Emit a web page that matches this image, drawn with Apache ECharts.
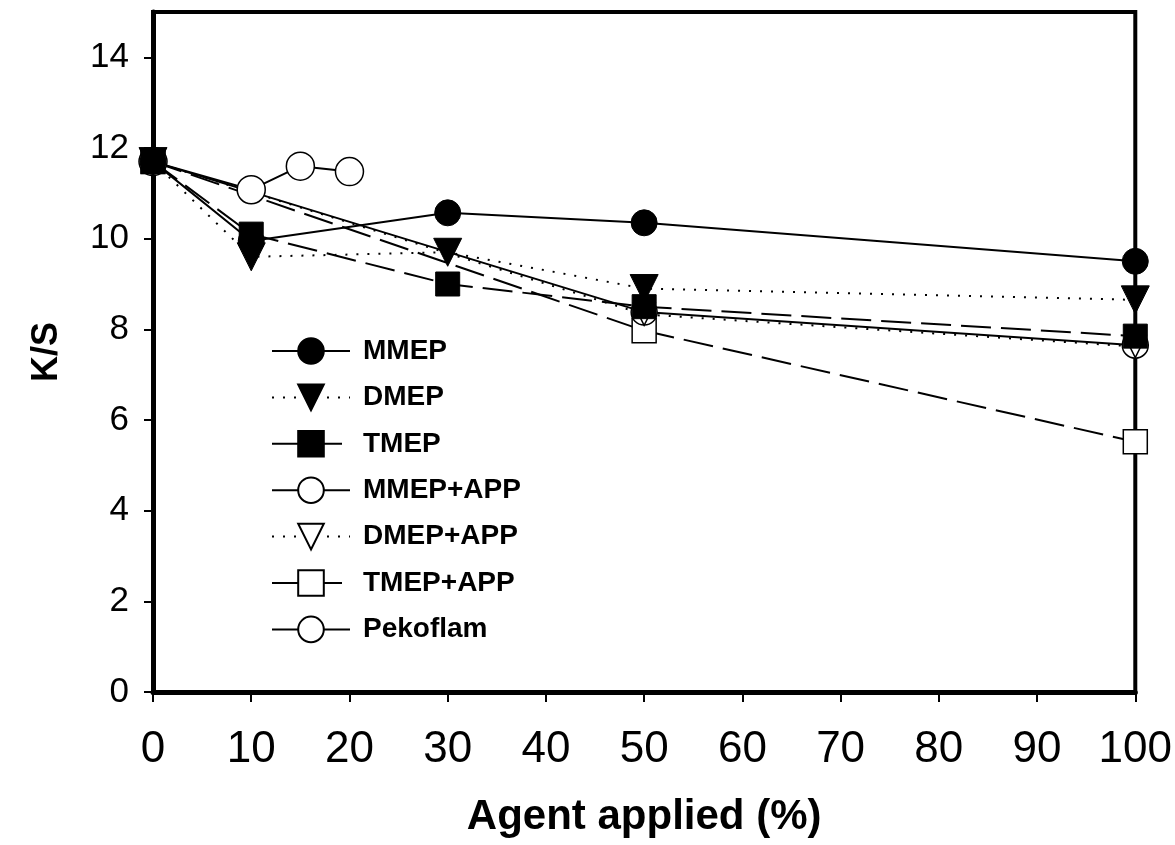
<!DOCTYPE html>
<html>
<head>
<meta charset="utf-8">
<script src="https://cdn.jsdelivr.net/npm/echarts@6/dist/echarts.min.js"></script>
<style>html,body{margin:0;padding:0;background:#fff}#c{width:1175px;height:845px}</style>
</head>
<body>
<div id="c"></div>
<script>
var xMain = [0, 10, 30, 50, 100];
var xApp = [0, 50, 100];
var xPeko = [0, 10, 15, 20];
var mmep = [11.7, 9.95, 10.57, 10.35, 9.5];
var dmep = [11.7, 9.6, 9.7, 8.9, 8.65];
var tmep = [11.7, 10.1, 9.0, 8.5, 7.85];
var mmepApp = [11.7, 8.38, 7.65];
var dmepApp = [11.7, 8.33, 7.62];
var tmepApp = [11.7, 7.97, 5.52];
var pekoflam = [11.7, 11.08, 11.6, 11.48];
var xTicks = [0, 10, 20, 30, 40, 50, 60, 70, 80, 90, 100];
var yTicks = [0, 2, 4, 6, 8, 10, 12, 14];

function pairs(xs, ys) { return xs.map(function (x, i) { return [x, ys[i]]; }); }

var openStyle = { color: '#fff', borderColor: '#000', borderWidth: 1.5 };
var fillStyle = { color: '#000', borderColor: '#000', borderWidth: 1 };

function mk(name, xs, ys, symbol, size, filled, lineType, lw, rot, z) {
  return {
    name: name, type: 'line', data: pairs(xs, ys),
    symbol: symbol, symbolSize: size, symbolRotate: rot || 0, showSymbol: true,
    lineStyle: { color: '#000', width: lw, type: lineType },
    itemStyle: filled ? fillStyle : openStyle,
    z: z, animation: false
  };
}

var chart = echarts.init(document.getElementById('c'));
chart.setOption({
  backgroundColor: '#fff',
  animation: false,
  grid: { left: 153, right: 35, top: 12, bottom: 153, show: true, borderColor: '#000', borderWidth: 4, backgroundColor: 'transparent' },
  xAxis: {
    type: 'value', min: 0, max: 100, interval: 10,
    name: 'Agent applied (%)', nameLocation: 'middle', nameGap: 104,
    nameTextStyle: { fontFamily: 'Liberation Sans', fontWeight: 'bold', fontSize: 42, color: '#000' },
    axisLine: { show: true, lineStyle: { color: '#000', width: 5 } },
    axisTick: { show: true, inside: false, length: 10, lineStyle: { color: '#000', width: 2 } },
    axisLabel: { margin: 36, fontFamily: 'Liberation Sans', fontSize: 44, color: '#000',
      formatter: function (v) { return xTicks.indexOf(v) >= 0 ? String(v) : ''; } },
    splitLine: { show: false }
  },
  yAxis: {
    type: 'value', min: 0, max: 15, interval: 2,
    name: 'K/S', nameLocation: 'middle', nameGap: 88,
    nameTextStyle: { fontFamily: 'Liberation Sans', fontWeight: 'bold', fontSize: 36, color: '#000' },
    axisLine: { show: true, lineStyle: { color: '#000', width: 5 } },
    axisTick: { show: true, inside: false, length: 9, customValues: yTicks, lineStyle: { color: '#000', width: 2 } },
    axisLabel: { margin: 24, fontFamily: 'Liberation Sans', fontSize: 35, color: '#000', customValues: yTicks,
      formatter: function (v) { return yTicks.indexOf(v) >= 0 ? String(v) : ''; } },
    splitLine: { show: false }
  },
  legend: {
    orient: 'vertical', left: 266, top: 332,
    itemWidth: 78, itemHeight: 32, itemGap: 18.4,
    textStyle: { fontFamily: 'Liberation Sans', fontWeight: 'bold', fontSize: 28, color: '#000', padding: [0, 0, 0, 8] },
    data: ['MMEP', 'DMEP', 'TMEP', 'MMEP+APP', 'DMEP+APP', 'TMEP+APP', 'Pekoflam']
  },
  series: [
    mk('TMEP+APP', xApp, tmepApp, 'rect', 24, false, [30, 10], 2, 0, 2),
    mk('MMEP+APP', xApp, mmepApp, 'circle', 26, false, 'solid', 2, 0, 2),
    mk('DMEP+APP', xApp, dmepApp, 'triangle', 22, false, [2, 9], 2, 180, 2),
    mk('Pekoflam', xPeko, pekoflam, 'circle', 28, false, 'solid', 2, 0, 2),
    mk('TMEP', xMain, tmep, 'rect', 24, true, [30, 10], 2, 0, 3),
    mk('DMEP', xMain, dmep, 'triangle', 28, true, [2, 9], 2, 180, 3),
    mk('MMEP', xMain, mmep, 'circle', 26, true, 'solid', 2, 0, 3)
  ]
});
</script>
</body>
</html>
